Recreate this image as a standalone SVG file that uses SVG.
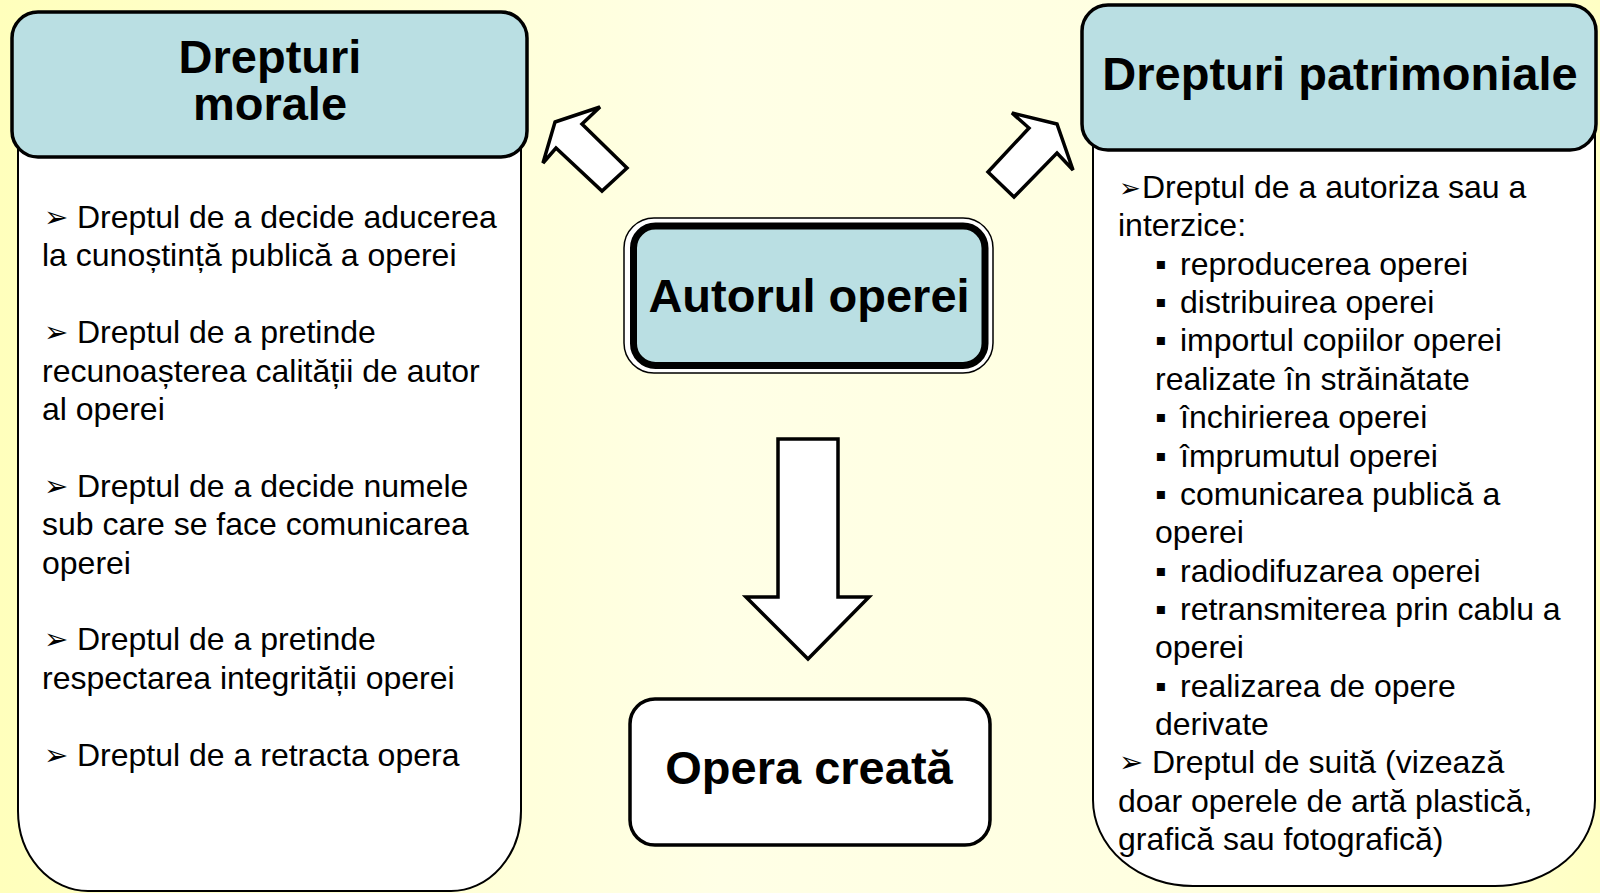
<svg xmlns="http://www.w3.org/2000/svg" width="1600" height="893" viewBox="0 0 1600 893">
<defs>
<linearGradient id="bg" x1="0" y1="0" x2="1" y2="0">
<stop offset="0" stop-color="#FFFFBC"/>
<stop offset="0.45" stop-color="#FFFFE6"/>
<stop offset="0.75" stop-color="#FFFFE0"/>
<stop offset="1" stop-color="#FFFFC4"/>
</linearGradient>
<style>
.hdr{fill:#BADFE3;stroke:#000;stroke-width:3.5}
.body{fill:#fff;stroke:#000;stroke-width:2}
.arrow{fill:#fff;stroke:#000;stroke-width:3.5;stroke-linejoin:miter}
.t{font-family:"Liberation Sans",Arial,sans-serif;fill:#000}
.title{font-size:47px;font-weight:bold;text-anchor:middle}
.txt{font-size:32px}
.bul{font-family:"DejaVu Sans",sans-serif;font-size:29px}
.bul2{font-family:"DejaVu Sans",sans-serif;font-size:26px}
.sq{font-family:"Liberation Sans","DejaVu Sans",sans-serif;font-size:32px}
</style>
</defs>
<rect x="0" y="0" width="1600" height="893" fill="url(#bg)"/>

<g id="connectors">
<polygon class="arrow" points="555,122 600,107 582,124 627,168 602,191 556,148 543,163"/>
<polygon class="arrow" points="1057,124 1012,113 1029,128 988,172 1014,197 1057,153 1073,170"/>
<polygon class="arrow" points="778,439 838,439 838,597 869,597 808,659 746,597 778,597"/>
</g>

<g id="drepturi-morale">
<path class="body" d="M18,110 L18,811 A70,80 0 0 0 88,891 L451,891 A70,80 0 0 0 521,811 L521,110 Z"/>
<rect class="hdr" x="12" y="12" width="515" height="145" rx="26" ry="26"/>
<text class="t title" x="270" y="73">Drepturi</text>
<text class="t title" x="270" y="120">morale</text>
<g class="t txt">
<text class="bul" x="44" y="227">➢</text>
<text x="77" y="228">Dreptul de a decide aducerea</text>
<text x="42" y="266.4">la cunoștință publică a operei</text>
<text class="bul" x="44" y="342.2">➢</text>
<text x="77" y="343.2">Dreptul de a pretinde</text>
<text x="42" y="381.6">recunoașterea calității de autor</text>
<text x="42" y="420">al operei</text>
<text class="bul" x="44" y="495.8">➢</text>
<text x="77" y="496.8">Dreptul de a decide numele</text>
<text x="42" y="535.2">sub care se face comunicarea</text>
<text x="42" y="573.6">operei</text>
<text class="bul" x="44" y="649.4">➢</text>
<text x="77" y="650.4">Dreptul de a pretinde</text>
<text x="42" y="688.8">respectarea integrității operei</text>
<text class="bul" x="44" y="764.6">➢</text>
<text x="77" y="765.6">Dreptul de a retracta opera</text>
</g>
</g>

<g id="drepturi-patrimoniale">
<path class="body" d="M1093,110 L1093,800 A100,86 0 0 0 1193,886 L1495,886 A100,86 0 0 0 1595,800 L1595,110 Z"/>
<rect class="hdr" x="1082" y="5" width="514" height="145" rx="26" ry="26"/>
<text class="t title" x="1340" y="90">Drepturi patrimoniale</text>
<g class="t txt">
<text class="bul2" x="1119" y="197">➢</text>
<text x="1142" y="198">Dreptul de a autoriza sau a</text>
<text x="1118" y="236.4">interzice:</text>
<text class="sq" x="1155" y="274.7">▪</text>
<text x="1180" y="274.7">reproducerea operei</text>
<text class="sq" x="1155" y="313.1">▪</text>
<text x="1180" y="313.1">distribuirea operei</text>
<text class="sq" x="1155" y="351.4">▪</text>
<text x="1180" y="351.4">importul copiilor operei</text>
<text x="1155" y="389.8">realizate în străinătate</text>
<text class="sq" x="1155" y="428.2">▪</text>
<text x="1180" y="428.2">închirierea operei</text>
<text class="sq" x="1155" y="466.5">▪</text>
<text x="1180" y="466.5">împrumutul operei</text>
<text class="sq" x="1155" y="504.9">▪</text>
<text x="1180" y="504.9">comunicarea publică a</text>
<text x="1155" y="543.2">operei</text>
<text class="sq" x="1155" y="581.6">▪</text>
<text x="1180" y="581.6">radiodifuzarea operei</text>
<text class="sq" x="1155" y="620">▪</text>
<text x="1180" y="620">retransmiterea prin cablu a</text>
<text x="1155" y="658.3">operei</text>
<text class="sq" x="1155" y="696.7">▪</text>
<text x="1180" y="696.7">realizarea de opere</text>
<text x="1155" y="735">derivate</text>
<text class="bul" x="1119" y="772.4">➢</text>
<text x="1152" y="773.4">Dreptul de suită (vizează</text>
<text x="1118" y="811.8">doar operele de artă plastică,</text>
<text x="1118" y="850.1">grafică sau fotografică)</text>
</g>
</g>

<g id="autorul-operei">
<rect x="624" y="218" width="369" height="155" rx="30" ry="30" fill="#fff" stroke="#000" stroke-width="1.5"/>
<rect class="hdr" x="633.5" y="226" width="351.5" height="139.5" rx="22" ry="22" style="stroke-width:7"/>
<text class="t title" x="809" y="312">Autorul operei</text>
</g>

<g id="opera-creata">
<rect x="630" y="699" width="360" height="146" rx="25" ry="25" fill="#fff" stroke="#000" stroke-width="3.5"/>
<text class="t title" x="809" y="784">Opera creată</text>
</g>
</svg>
